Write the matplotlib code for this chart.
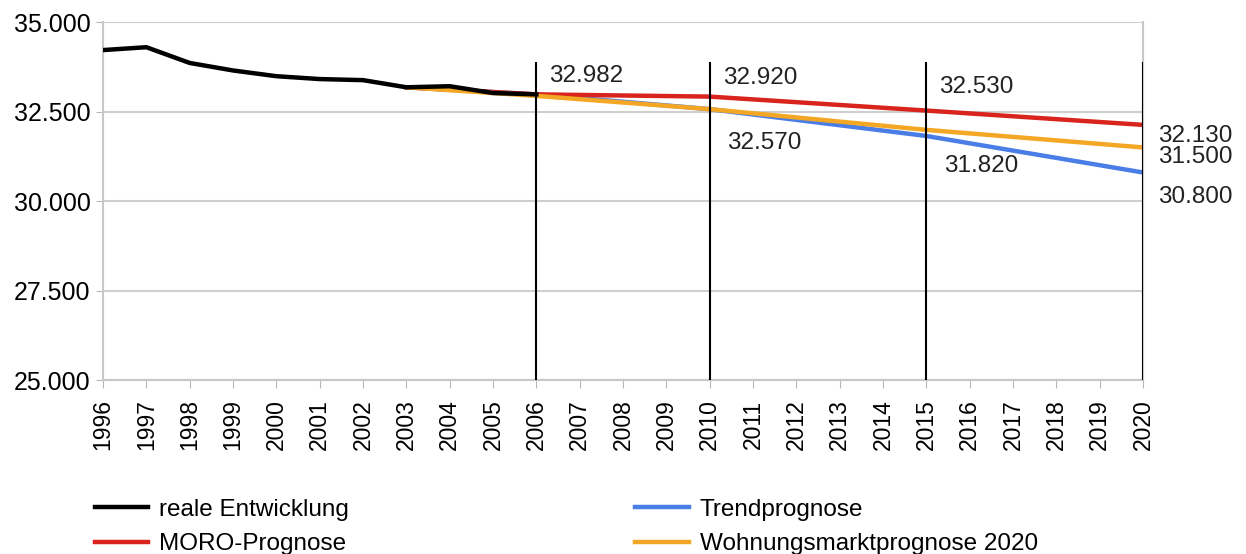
import matplotlib.pyplot as plt
from matplotlib.ticker import FuncFormatter
from matplotlib.lines import Line2D

plt.rcParams['font.family'] = ['Liberation Sans', 'DejaVu Sans']

# observed population
real_years = [1996, 1997, 1998, 1999, 2000, 2001, 2002, 2003, 2004, 2005, 2006]
real_vals = [34220, 34300, 33860, 33650, 33490, 33410, 33380, 33180, 33210, 33020, 32982]

# forecasts
trend_years = [2003, 2006, 2010, 2015, 2020]
trend_vals = [33180, 32982, 32570, 31820, 30800]

moro_years = [2003, 2006, 2010, 2015, 2020]
moro_vals = [33180, 32982, 32920, 32530, 32130]

wm_years = [2003, 2006, 2010, 2015, 2020]
wm_vals = [33180, 32940, 32570, 31990, 31500]

marker_years = [2006, 2010, 2015, 2020]
years = list(range(1996, 2021))

c_real, c_trend, c_moro, c_wm = 'black', '#4a7ee6', '#d9231d', '#f3a724'

fig = plt.figure(figsize=(12.46, 5.54), dpi=100)
ax = fig.add_axes([0.0827, 0.314, 0.8346, 0.646])

lw = 3.2
ax.plot(trend_years, trend_vals, color=c_trend, lw=lw, zorder=3)
ax.plot(wm_years, wm_vals, color=c_wm, lw=lw, zorder=4)
ax.plot(moro_years, moro_vals, color=c_moro, lw=lw, zorder=3.5)
ax.plot(real_years, real_vals, color=c_real, lw=lw, zorder=5)

ax.vlines(marker_years, 25000, 33880, color='black', lw=1.5, zorder=6)

# value labels
lab_kw = dict(fontsize=17.5, color='#222222', zorder=7, va='center')
ax.text(2006.3, 33500, '32.982', **lab_kw)
ax.text(2010.3, 33430, '32.920', **lab_kw)
ax.text(2015.3, 33180, '32.530', **lab_kw)
ax.text(2010.4, 31610, '32.570', **lab_kw)
ax.text(2015.4, 30970, '31.820', **lab_kw)
ax.text(2020.35, 31830, '32.130', **lab_kw)
ax.text(2020.35, 31230, '31.500', **lab_kw)
ax.text(2020.35, 30120, '30.800', **lab_kw)

ax.set_xlim(1996, 2020)
ax.set_ylim(25000, 35000)
ax.set_xticks(years)
ax.set_xticklabels([str(y) for y in years], rotation=90, fontsize=16.5)
ax.set_yticks([25000, 27500, 30000, 32500, 35000])
ax.yaxis.set_major_formatter(FuncFormatter(lambda v, p: f'{v:,.0f}'.replace(',', '.')))
ax.tick_params(axis='y', labelsize=18, length=5, color='#b8b8b8', pad=4)
ax.tick_params(axis='x', length=6, color='#b8b8b8', pad=8)
ax.grid(axis='y', color='#cfcfcf', lw=1.5)
ax.set_axisbelow(True)
for side in ['left', 'bottom', 'right']:
    ax.spines[side].set_color('#c8c8c8')
    ax.spines[side].set_linewidth(1.5)
ax.spines['top'].set_visible(False)

# legend in two separate columns
leg_kw = dict(loc='upper left', frameon=False, fontsize=17.5, handlelength=2.2,
              handletextpad=0.45, labelspacing=0.52, borderpad=0, borderaxespad=0)
h1 = [Line2D([], [], color=c_real, lw=lw), Line2D([], [], color=c_moro, lw=lw)]
h2 = [Line2D([], [], color=c_trend, lw=lw), Line2D([], [], color=c_wm, lw=lw)]
fig.legend(h1, ['reale Entwicklung', 'MORO-Prognose'], bbox_to_anchor=(0.076, 0.100), **leg_kw)
fig.legend(h2, ['Trendprognose', 'Wohnungsmarktprognose 2020'], bbox_to_anchor=(0.51, 0.100), **leg_kw)

fig.savefig('out.png', dpi=100)
